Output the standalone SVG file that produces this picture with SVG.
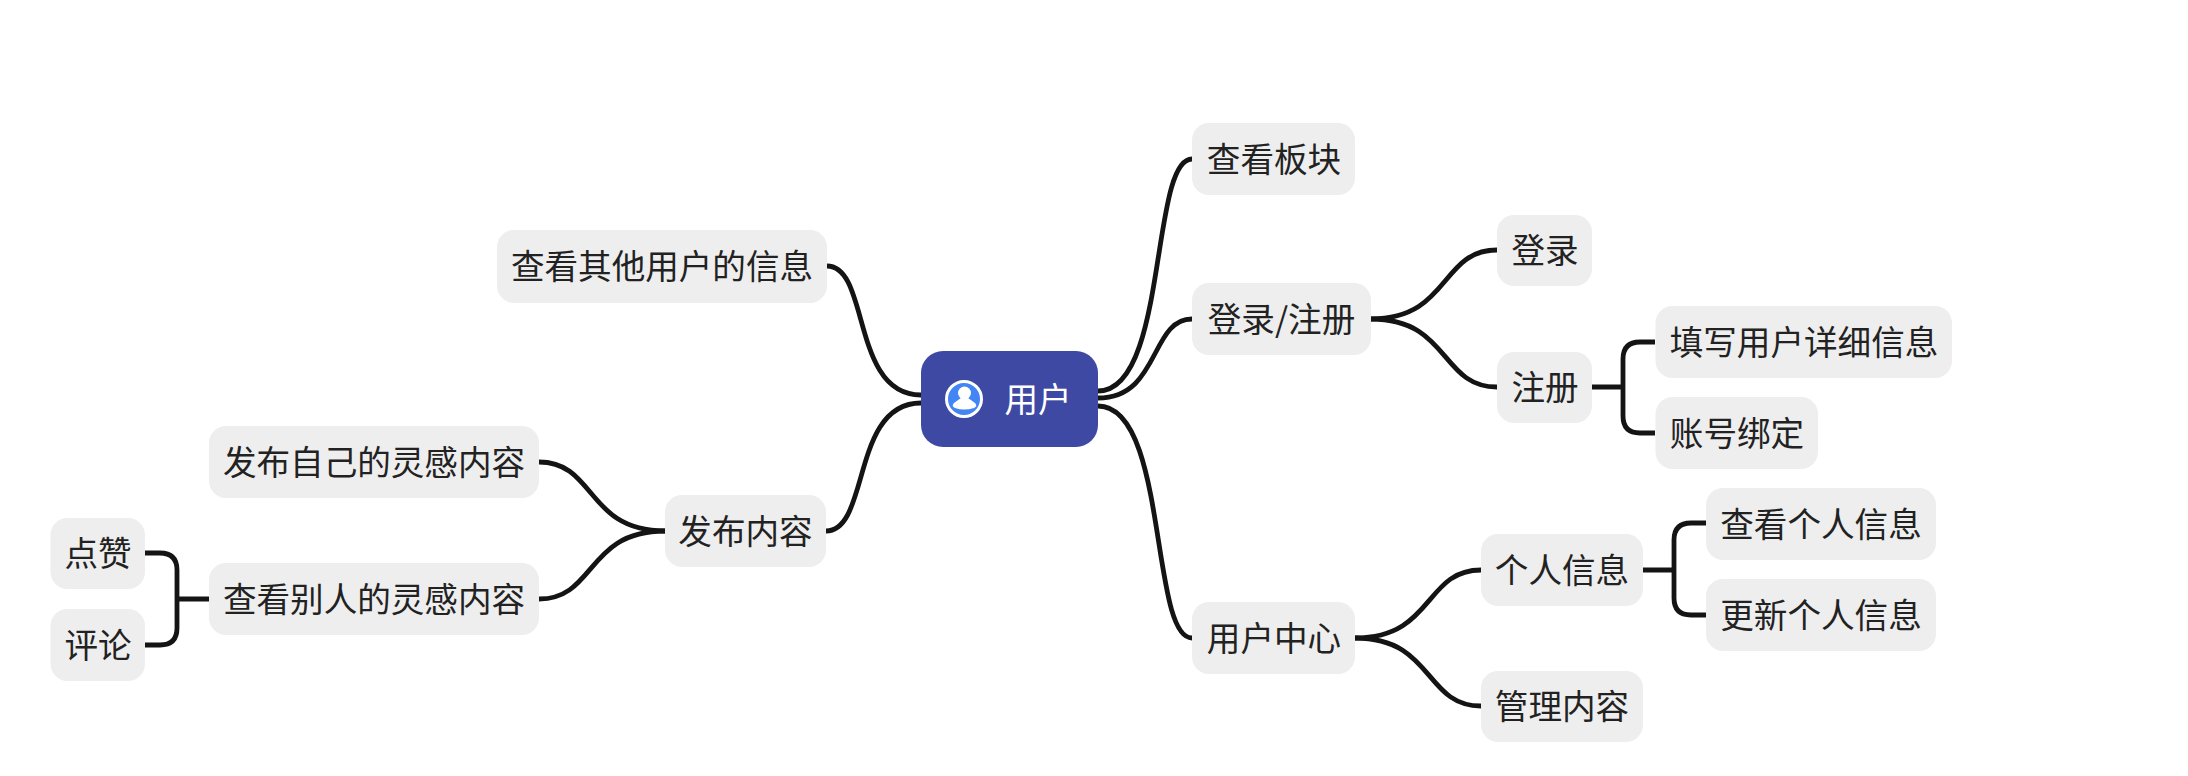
<svg xmlns="http://www.w3.org/2000/svg" width="2188" height="776" viewBox="0 0 2188 776">
<style>
.n{fill:#eeeeee}
.t{font-family:"Noto Sans CJK SC","Noto Sans",sans-serif;font-size:33.6px;fill:#222222;text-anchor:middle;font-weight:400}
.c{fill:none;stroke:#141414;stroke-width:4.8;stroke-linecap:butt}
</style>
<rect width="2188" height="776" fill="#ffffff"/>
<g id="connectors">
<path class="c" d="M1098 391C1168 391 1150 159 1192 159"/>
<path class="c" d="M1098 398C1160 398 1150 319 1192 319"/>
<path class="c" d="M1098 406C1168 406 1150 638 1192 638"/>
<path class="c" d="M921 395C851 395 870 266 827 266"/>
<path class="c" d="M921 403C851 403 870 531 826 531"/>
<path class="c" d="M1371 319C1450 319 1440 250 1497 250"/>
<path class="c" d="M1371 319C1450 319 1440 387 1497 387"/>
<path class="c" d="M1355 638C1434 638 1424 570 1481 570"/>
<path class="c" d="M1355 638C1434 638 1424 706 1481 706"/>
<path class="c" d="M665 531C586 531 596 462 539 462"/>
<path class="c" d="M665 531C586 531 596 599 539 599"/>
<path class="c" d="M1592 387H1623M1655 342H1640Q1623 342 1623 359V416Q1623 433 1640 433H1655"/>
<path class="c" d="M1643 570H1674M1706 523H1691Q1674 523 1674 540V598Q1674 615 1691 615H1706"/>
<path class="c" d="M209 599H177M145 553H160Q177 553 177 570V628Q177 645 160 645H145"/>
</g>
<g id="root">
<rect x="921" y="351" width="177" height="96" rx="22" fill="#3d49a3"/>
<circle cx="964" cy="399" r="17.5" fill="#4285f4" stroke="#ffffff" stroke-width="3"/>
<circle cx="964.500" cy="393" r="6.500" fill="#ffffff"/>
<path d="M954 403Q958 400 961 398H968Q971 400 975 403Q978 406 974 408Q964 411 955 408Q951 406 954 403Z" fill="#ffffff"/>
<text x="1038" y="412" class="t" style="fill:#ffffff">用户</text>
</g>
<g id="n1"><rect class="n" x="1192" y="123" width="163" height="72" rx="17"/><text class="t" x="1274" y="172">查看板块</text></g>
<g id="n2"><rect class="n" x="1192" y="283" width="179" height="72" rx="17"/><text class="t" x="1281.500" y="332">登录/注册</text></g>
<g id="n3"><rect class="n" x="1497" y="215" width="95" height="71" rx="17"/><text class="t" x="1545" y="263">登录</text></g>
<g id="n4"><rect class="n" x="1497" y="352" width="95" height="71" rx="17"/><text class="t" x="1545" y="400">注册</text></g>
<g id="n5"><rect class="n" x="1655.500" y="306" width="296.500" height="72" rx="17"/><text class="t" x="1804" y="355">填写用户详细信息</text></g>
<g id="n6"><rect class="n" x="1655.500" y="397" width="162.500" height="72" rx="17"/><text class="t" x="1737" y="446">账号绑定</text></g>
<g id="n7"><rect class="n" x="1192" y="602" width="163" height="72" rx="17"/><text class="t" x="1274" y="651">用户中心</text></g>
<g id="n8"><rect class="n" x="1481" y="534" width="162" height="72" rx="17"/><text class="t" x="1562" y="583">个人信息</text></g>
<g id="n9"><rect class="n" x="1481" y="671" width="162" height="71" rx="17"/><text class="t" x="1562" y="719">管理内容</text></g>
<g id="n10"><rect class="n" x="1706" y="488" width="230" height="72" rx="17"/><text class="t" x="1821" y="537">查看个人信息</text></g>
<g id="n11"><rect class="n" x="1706" y="579" width="230" height="72" rx="17"/><text class="t" x="1821" y="628">更新个人信息</text></g>
<g id="n12"><rect class="n" x="497" y="230" width="330" height="73" rx="17"/><text class="t" x="662" y="279">查看其他用户的信息</text></g>
<g id="n13"><rect class="n" x="665" y="495" width="161" height="72" rx="17"/><text class="t" x="745.500" y="544">发布内容</text></g>
<g id="n14"><rect class="n" x="209" y="426" width="330" height="72" rx="17"/><text class="t" x="374" y="475">发布自己的灵感内容</text></g>
<g id="n15"><rect class="n" x="209" y="563" width="330" height="72" rx="17"/><text class="t" x="374" y="612">查看别人的灵感内容</text></g>
<g id="n16"><rect class="n" x="50.500" y="518" width="94.500" height="71" rx="17"/><text class="t" x="98" y="566">点赞</text></g>
<g id="n17"><rect class="n" x="50.500" y="609" width="94.500" height="72" rx="17"/><text class="t" x="98" y="658">评论</text></g>
</svg>
